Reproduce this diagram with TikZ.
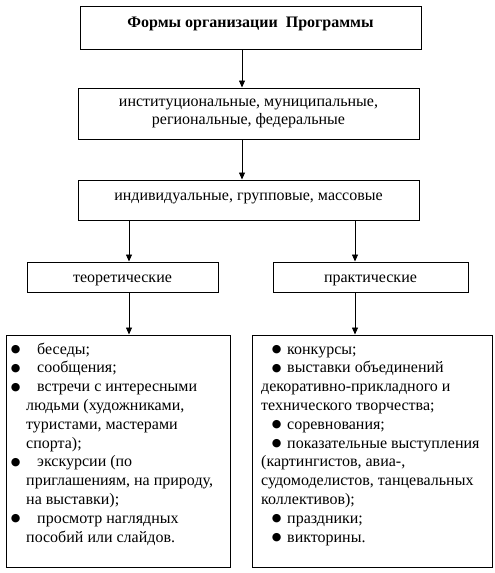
\documentclass[tikz,border=0pt]{standalone}
\usepackage{fontspec}
\setmainfont{Liberation Serif}
\newfontfamily\symfont{DejaVu Sans}
\usetikzlibrary{arrows.meta}
\newcommand\bigbul{\raisebox{1.5pt}{\fontsize{11}{11}\symfont ●}}
\newcommand\bulL{\leavevmode\llap{\bigbul\hspace{5.7pt}}\hspace*{11pt}}
\newcommand\bulR{\leavevmode\hspace*{10.7pt}\makebox[15.3pt][l]{\bigbul}}
\begin{document}
\begin{tikzpicture}[x=1pt,y=-1pt,
  txt/.style={font=\fontsize{16}{18.8}\selectfont},
  box/.style={draw, line width=1pt, inner sep=0pt, txt},
  list/.style={inner sep=0pt, anchor=base west, txt},
  arr/.style={line width=0.8pt, -{Triangle[length=7pt,width=6pt]}}]
\fill[white] (0,0) rectangle (495,573);
\useasboundingbox (0,0) rectangle (495,573);

\node[box, minimum width=341pt, text height=21pt, text depth=22pt,
      font={\fontsize{16}{18.8}\selectfont\bfseries}] (b1) at (250.5,27.5) {Формы организации\ \ Программы};
\node[box, minimum width=341pt, minimum height=51pt, align=center] (b2) at (248.5,113.5)
  {институциональные, муниципальные,\\региональные, федеральные};
\node[box, minimum width=341pt, text height=20pt, text depth=20pt] (b3) at (248.5,200)
  {индивидуальные, групповые, массовые};
\node[box, minimum width=191pt, text height=20pt, text depth=10pt] (b4l) at (122.5,277) {теоретические};
\node[box, minimum width=195pt, text height=20pt, text depth=10pt] (b4r) at (370.5,277) {практические};
\node[box, minimum width=224pt, minimum height=232pt] (b5l) at (118,451) {};
\node[box, minimum width=240pt, minimum height=232pt] (b5r) at (372,451) {};

\node[list] (l1) at (26,354) {\parbox[t]{300pt}{\raggedright
\bulL беседы;\\
\bulL сообщения;\\
\bulL встречи с интересными\\
людьми (художниками,\\
туристами, мастерами\\
спорта);\\
\bulL экскурсии (по\\
приглашениям, на природу,\\
на выставки);\\
\bulL просмотр наглядных\\
пособий или слайдов.}};

\node[list] (l2) at (261,354) {\parbox[t]{300pt}{\raggedright
\bulR конкурсы;\\
\bulR выставки объединений\\
декоративно-прикладного и\\
технического творчества;\\
\bulR соревнования;\\
\bulR показательные выступления\\
(картингистов, авиа-,\\
судомоделистов, танцевальных\\
коллективов);\\
\bulR праздники;\\
\bulR викторины.}};

\coordinate (cm) at (242,0);
\coordinate (cl) at (129,0);
\coordinate (cr) at (355,0);
\draw[arr] (b1.south -| cm) -- (b2.north -| cm);
\draw[arr] (b2.south -| cm) -- (b3.north -| cm);
\draw[arr] (b3.south -| cl) -- (b4l.north -| cl);
\draw[arr] (b3.south -| cr) -- (b4r.north -| cr);
\draw[arr] (b4l.south -| cl) -- (b5l.north -| cl);
\draw[arr] (b4r.south -| cr) -- (b5r.north -| cr);
\end{tikzpicture}
\end{document}
